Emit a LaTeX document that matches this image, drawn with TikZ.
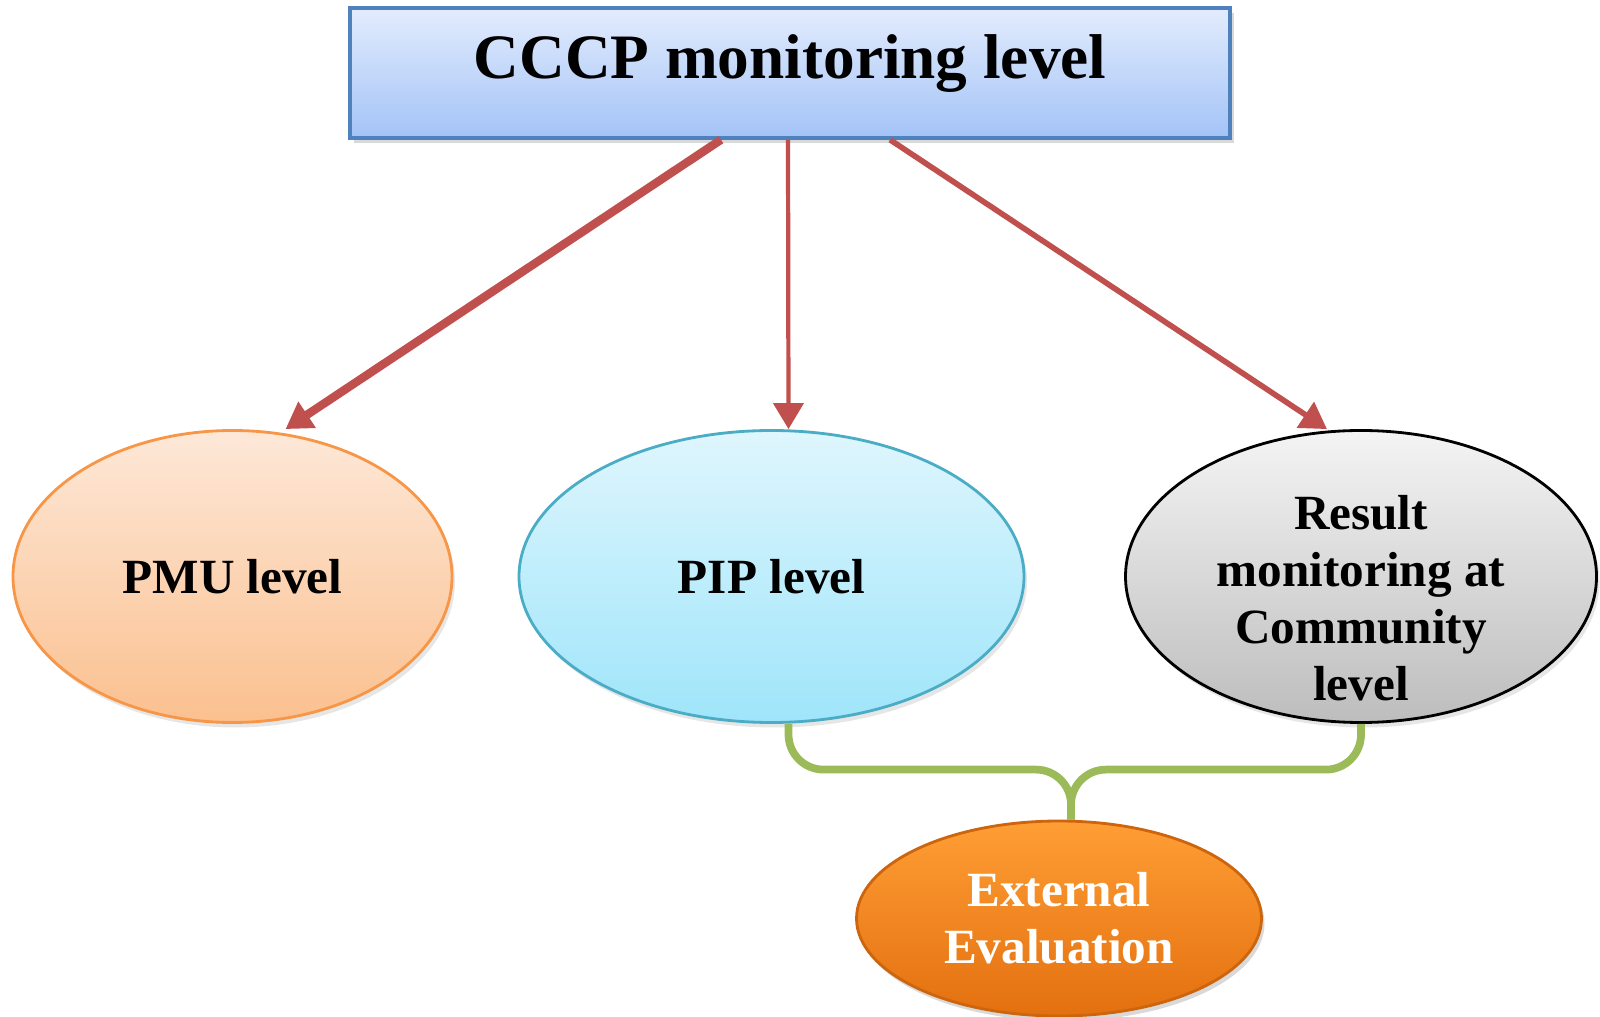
\documentclass[tikz,border=0pt]{standalone}
\usepackage{fontspec}
\setmainfont{Liberation Serif}
\usepackage{tikz}
\usetikzlibrary{positioning,
        shapes.geometric,
        shadows,
        arrows.meta}
\usepackage{xcolor}
\definecolor{boxtop}{HTML}{E3ECFD}
\definecolor{boxbot}{HTML}{A3C3F7}
\definecolor{boxline}{HTML}{4F81BD}
\definecolor{arrowred}{HTML}{C0504D}
\definecolor{pmutop}{HTML}{FDE8D8}
\definecolor{pmubot}{HTML}{FBC08F}
\definecolor{pmuline}{HTML}{F79646}
\definecolor{piptop}{HTML}{DFF6FD}
\definecolor{pipbot}{HTML}{9FE5FA}
\definecolor{pipline}{HTML}{4BACC6}
\definecolor{restop}{HTML}{F4F4F4}
\definecolor{resbot}{HTML}{BDBDBD}
\definecolor{exttop}{HTML}{FF9E35}
\definecolor{extbot}{HTML}{E3700F}
\definecolor{linkgreen}{HTML}{9BBB59}

\begin{document}
\begin{tikzpicture}[
        lvl/.style={ellipse,draw,line width=0.8pt,inner sep=0pt,align=center,
            font=\fontsize{14}{16.2}\selectfont\bfseries,
            minimum height=2.92cm},
        push/.style={draw=arrowred,-{Triangle[length=0.26cm,width=0.3cm]}},
        link/.style={draw=linkgreen,line width=2.2pt,rounded corners=0.35cm}]
        \useasboundingbox (0,0) rectangle (16,10.16);
        \node [rectangle,draw=boxline,line width=1pt,top color=boxtop,bottom color=boxbot,
            minimum width=8.8cm,minimum height=1.3cm,text height=0.45cm,text depth=0.33cm,
            font=\fontsize{18}{22}\selectfont\bfseries,
            drop shadow={opacity=0.3,shadow xshift=0.04cm,shadow yshift=-0.05cm}]
            (top) at (7.90,9.43) {CCCP monitoring level};
        \node [lvl,draw=pmuline,top color=pmutop,bottom color=pmubot,minimum width=4.39cm,
            drop shadow={opacity=0.2,shadow xshift=0.03cm,shadow yshift=-0.05cm}]
            (pmu) at (2.325,4.395) {PMU level};
        \node [lvl,draw=pipline,top color=piptop,bottom color=pipbot,minimum width=5.05cm,
            drop shadow={opacity=0.2,shadow xshift=0.03cm,shadow yshift=-0.05cm}]
            (pip) at (7.715,4.395) {PIP level};
        \node [lvl,draw=black,top color=restop,bottom color=resbot,minimum width=4.71cm,
            inner ysep=-0.35cm,
            drop shadow={opacity=0.2,shadow xshift=0.03cm,shadow yshift=-0.05cm}]
            (res) at (13.61,4.395) {\rule{0pt}{0.78cm}Result\\monitoring at\\Community\\level};
        \node [lvl,draw=extbot!90!black,top color=exttop,bottom color=extbot,text=white,
            minimum width=4.05cm,minimum height=1.95cm,
            drop shadow={opacity=0.3,shadow xshift=0.03cm,shadow yshift=-0.05cm}]
            (ext) at (10.59,0.975) {External\\Evaluation};

        \draw [push,line width=2.4pt] ([xshift=-0.69cm]top.south) -- ([xshift=0.53cm]pmu.north);
        \draw [push,line width=1.2pt] ([xshift=-0.02cm]top.south) -- ([xshift=0.17cm]pip.north);
        \draw [push,line width=1.6pt] ([xshift=1.0cm]top.south) -- ([xshift=-0.34cm]res.north);

        \draw [link] ([xshift=0.17cm]pip.south) |- ([xshift=0.12cm,yshift=0.5cm]ext.north)
            -- ([xshift=0.12cm]ext.north);
        \draw [link] (res.south) |- ([xshift=0.12cm,yshift=0.5cm]ext.north)
            -- ([xshift=0.12cm]ext.north);
    \end{tikzpicture}
\end{document}
